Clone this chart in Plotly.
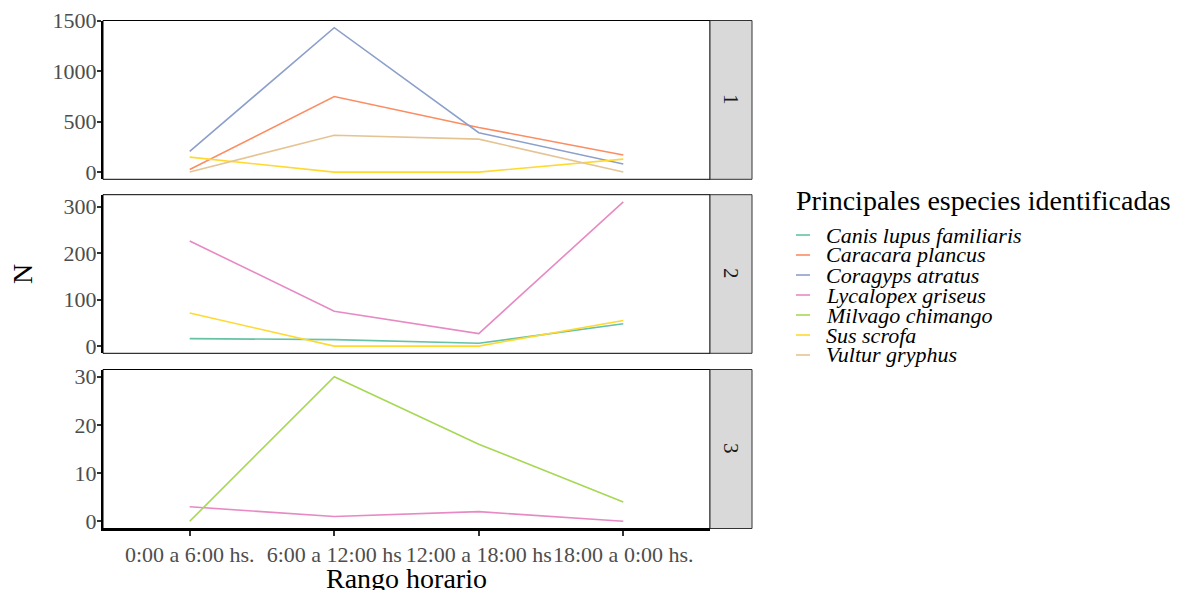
import plotly.graph_objects as go

W, H = 1180, 590

categories = ["0:00 a 6:00 hs.", "6:00 a 12:00 hs", "12:00 a 18:00 hs", "18:00 a 0:00 hs."]
species = ["Canis lupus familiaris", "Caracara plancus", "Coragyps atratus",
           "Lycalopex griseus", "Milvago chimango", "Sus scrofa", "Vultur gryphus"]
colors = ["#66C2A5", "#FC8D62", "#8DA0CB", "#E78AC3", "#A6D854", "#FFD92F", "#E5C494"]

# panel 1
p1_caracara = [25, 748, 442, 170]
p1_coragyps = [205, 1430, 390, 80]
p1_sus = [148, 0, 0, 128]
p1_vultur = [0, 365, 326, 0]
# panel 2
p2_canis = [16, 14, 6, 48]
p2_lycalopex = [226, 75, 27, 310]
p2_sus = [71, 0, 0, 55]
# panel 3
p3_lycalopex = [3, 1, 2, 0]
p3_milvago = [0, 30, 16, 4]

panel_series = [
    [("Caracara plancus", p1_caracara), ("Coragyps atratus", p1_coragyps),
     ("Sus scrofa", p1_sus), ("Vultur gryphus", p1_vultur)],
    [("Canis lupus familiaris", p2_canis), ("Lycalopex griseus", p2_lycalopex),
     ("Sus scrofa", p2_sus)],
    [("Lycalopex griseus", p3_lycalopex), ("Milvago chimango", p3_milvago)],
]
panel_labels = ["1", "2", "3"]
y_ranges = [[-71.5, 1501.5], [-15.5, 325.5], [-1.5, 31.5]]
y_ticks = [[0, 500, 1000, 1500], [0, 100, 200, 300], [0, 10, 20, 30]]

FONT = "Liberation Serif"
TICK_COL = "#4D4D4D"

# pixel geometry
px_left, px_right = 103, 710
panel_px = [(20.5, 179.3), (194.7, 353.3), (369.5, 528.5)]
strip_x = (710, 752)

def fx(px):
    return px / W

def fy(py):
    return 1 - py / H

fig = go.Figure()
layout = dict(
    width=W, height=H,
    margin=dict(l=0, r=0, t=0, b=0),
    paper_bgcolor="white", plot_bgcolor="white",
    showlegend=False,
    font=dict(family=FONT, color="black"),
)
shapes = []
annotations = []

for i in range(3):
    xa = "xaxis" if i == 0 else f"xaxis{i+1}"
    ya = "yaxis" if i == 0 else f"yaxis{i+1}"
    xref = "x" if i == 0 else f"x{i+1}"
    yref = "y" if i == 0 else f"y{i+1}"
    top, bot = panel_px[i]
    last = i == 2
    layout[xa] = dict(
        domain=[fx(px_left), fx(px_right)],
        anchor=yref,
        type="category",
        categoryorder="array", categoryarray=categories,
        range=[-0.6, 3.6],
        showgrid=False, zeroline=False,
        showline=last, linecolor="black", linewidth=2,
        ticks="outside" if last else "",
        ticklen=5, tickwidth=1.5, tickcolor="#333333",
        showticklabels=last,
        tickangle=0,
        tickfont=dict(family=FONT, size=22, color=TICK_COL),
        automargin=False,
        fixedrange=True,
    )
    if i > 0:
        layout[xa]["matches"] = "x"
    layout[ya] = dict(
        domain=[fy(bot), fy(top)],
        anchor=xref,
        range=y_ranges[i],
        tickvals=y_ticks[i],
        showgrid=False, zeroline=False,
        showline=True, linecolor="black", linewidth=2,
        ticks="outside", ticklen=4, tickwidth=1.5, tickcolor="#333333",
        tickfont=dict(family=FONT, size=22, color=TICK_COL),
        ticklabelstandoff=-4,
        automargin=False,
        fixedrange=True,
    )
    for name, vals in sorted(panel_series[i], key=lambda t: species.index(t[0])):
        fig.add_trace(go.Scatter(
            x=categories, y=vals, mode="lines", name=name,
            line=dict(color=colors[species.index(name)], width=1.6),
            xaxis=xref, yaxis=yref, showlegend=False,
        ))
    # panel border
    shapes.append(dict(type="rect", xref="paper", yref="paper",
                       x0=fx(px_left), x1=fx(px_right), y0=fy(bot), y1=fy(top),
                       line=dict(color="black", width=1), fillcolor="rgba(0,0,0,0)",
                       layer="above"))
    # strip
    shapes.append(dict(type="rect", xref="paper", yref="paper",
                       x0=fx(strip_x[0]), x1=fx(strip_x[1]), y0=fy(bot), y1=fy(top),
                       line=dict(color="#333333", width=1), fillcolor="#D9D9D9",
                       layer="above"))
    annotations.append(dict(text=panel_labels[i], xref="paper", yref="paper",
                            x=fx((strip_x[0] + strip_x[1]) / 2), y=fy((top + bot) / 2),
                            xanchor="center", yanchor="middle", textangle=90,
                            showarrow=False,
                            font=dict(family=FONT, size=21, color="#1A1A1A")))

# axis titles
annotations.append(dict(text="Rango horario", xref="paper", yref="paper",
                        x=fx((px_left + px_right) / 2), y=fy(578),
                        xanchor="center", yanchor="middle", showarrow=False,
                        font=dict(family=FONT, size=28, color="black")))
annotations.append(dict(text="N", xref="paper", yref="paper",
                        x=fx(22), y=fy(274), textangle=-90,
                        xanchor="center", yanchor="middle", showarrow=False,
                        font=dict(family=FONT, size=28, color="black")))

# legend
annotations.append(dict(text="Principales especies identificadas", xref="paper", yref="paper",
                        x=fx(794), y=fy(200), xanchor="left", yanchor="middle",
                        showarrow=False, font=dict(family=FONT, size=28, color="black")))
for k, (name, col) in enumerate(zip(species, colors)):
    yc = 235 + 20 * k
    shapes.append(dict(type="line", xref="paper", yref="paper",
                       x0=fx(796), x1=fx(810), y0=fy(yc), y1=fy(yc),
                       line=dict(color=col, width=1.6)))
    annotations.append(dict(text=f"<i>{name}</i>", xref="paper", yref="paper",
                            x=fx(824), y=fy(yc), xanchor="left", yanchor="middle",
                            showarrow=False,
                            font=dict(family=FONT, size=22, color="black")))

layout["shapes"] = shapes
layout["annotations"] = annotations
fig.update_layout(**layout)
fig.write_html("out.html",
               config={"displayModeBar": False},
               post_script="document.body.style.margin='0';document.body.style.overflow='hidden';")
